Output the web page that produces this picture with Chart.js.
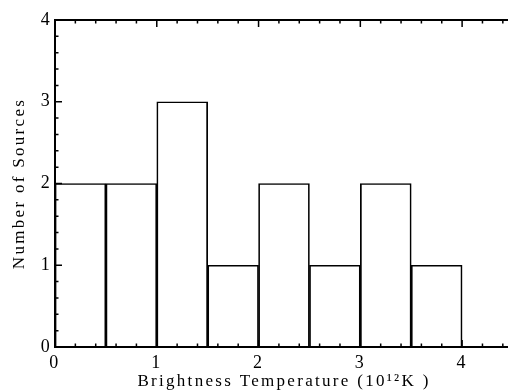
<!DOCTYPE html>
<html>
<head>
<meta charset="utf-8">
<script src="https://cdn.jsdelivr.net/npm/chart.js@4/dist/chart.umd.min.js"></script>
<style>
html,body{margin:0;padding:0;background:#fff;overflow:hidden;width:508px;height:392px;}
canvas{display:block;}
</style>
</head>
<body>
<canvas id="c" width="520" height="392"></canvas>
<script>
// Histogram data
const binStarts = [0, 0.5, 1.0, 1.5, 2.0, 2.5, 3.0, 3.5];
const binWidth = 0.5;
const counts = [2, 2, 3, 1, 2, 1, 2, 1];
const xTickLabels = ['0', '1', '2', '3', '4'];
const yTickLabels = ['0', '1', '2', '3', '4'];
const xTitle = 'Brightness Temperature (10¹²K )';
const yTitle = 'Number of Sources';

const points = binStarts.map((s, i) => ({ x: s + binWidth / 2, y: counts[i] }));

const serif = '"Liberation Serif", "DejaVu Serif", serif';

const frameTicks = {
  id: 'frameTicks',
  beforeDraw(chart) {
    chart.ctx.letterSpacing = '2.3px';
  },
  beforeDatasetsDraw(chart) {
    chart.ctx.letterSpacing = '0px';
  },
  afterDraw(chart) {
    const ctx = chart.ctx;
    const a = chart.chartArea;
    const xs = chart.scales.x, ys = chart.scales.y;
    ctx.save();
    ctx.strokeStyle = '#000';
    ctx.lineWidth = 2;
    ctx.beginPath();
    ctx.moveTo(a.right, a.top); ctx.lineTo(a.left, a.top);
    ctx.lineTo(a.left, a.bottom); ctx.lineTo(a.right, a.bottom);
    ctx.stroke();
    ctx.lineWidth = 1.5;
    ctx.beginPath();
    for (let i = 0; i <= 45; i++) {
      const r = i / 10;
      const isMajor = i % 10 === 0;
      const isMinor = i % 2 === 0;
      if (!isMajor && !isMinor) continue;
      const len = isMajor ? 7 : 3.5;
      const px = xs.getPixelForValue(r);
      ctx.moveTo(px, a.bottom); ctx.lineTo(px, a.bottom - len);
      ctx.moveTo(px, a.top); ctx.lineTo(px, a.top + len);
    }
    for (let i = 0; i <= 20; i++) {
      const r = i / 5;
      const isMajor = i % 5 === 0;
      const len = isMajor ? 7 : 3.5;
      const py = ys.getPixelForValue(r);
      ctx.moveTo(a.left, py); ctx.lineTo(a.left + len, py);
    }
    ctx.stroke();
    ctx.restore();
  }
};

new Chart(document.getElementById('c'), {
  type: 'bar',
  data: {
    datasets: [{
      data: points,
      backgroundColor: '#ffffff',
      borderColor: '#000000',
      borderWidth: 1.7,
      barPercentage: 1.0,
      categoryPercentage: 1.0,
      grouped: false
    }]
  },
  options: {
    responsive: false,
    devicePixelRatio: 1,
    animation: false,
    events: [],
    layout: { padding: { top: 20, right: 7, left: 0, bottom: 0 } },
    plugins: { legend: { display: false }, tooltip: { enabled: false } },
    scales: {
      x: {
        type: 'linear',
        offset: false,
        min: 0, max: 4.5,
        grid: { display: false, drawTicks: false, offset: false },
        border: { display: false },
        ticks: {
          stepSize: 1,
          includeBounds: false,
          autoSkip: false,
          maxRotation: 0,
          padding: 5,
          color: '#000',
          font: { family: serif, size: 18 },
          callback: (v) => Number.isInteger(v) ? xTickLabels[v] : ''
        },
        title: {
          display: true,
          text: xTitle,
          color: '#000',
          font: { family: serif, size: 17 },
          padding: { top: 5, bottom: 0 }
        },
        afterFit(s) { s.height = 45; }
      },
      y: {
        min: 0, max: 4,
        grid: { display: false, drawTicks: false },
        border: { display: false },
        ticks: {
          stepSize: 1,
          padding: 3,
          color: '#000',
          font: { family: serif, size: 18 },
          callback: (v) => Number.isInteger(v) ? yTickLabels[v] : ''
        },
        title: {
          display: true,
          text: yTitle,
          color: '#000',
          font: { family: serif, size: 17 },
          padding: { top: 9, bottom: 4 }
        },
        afterFit(s) { s.width = 55; }
      }
    }
  },
  plugins: [frameTicks]
});
</script>
</body>
</html>
